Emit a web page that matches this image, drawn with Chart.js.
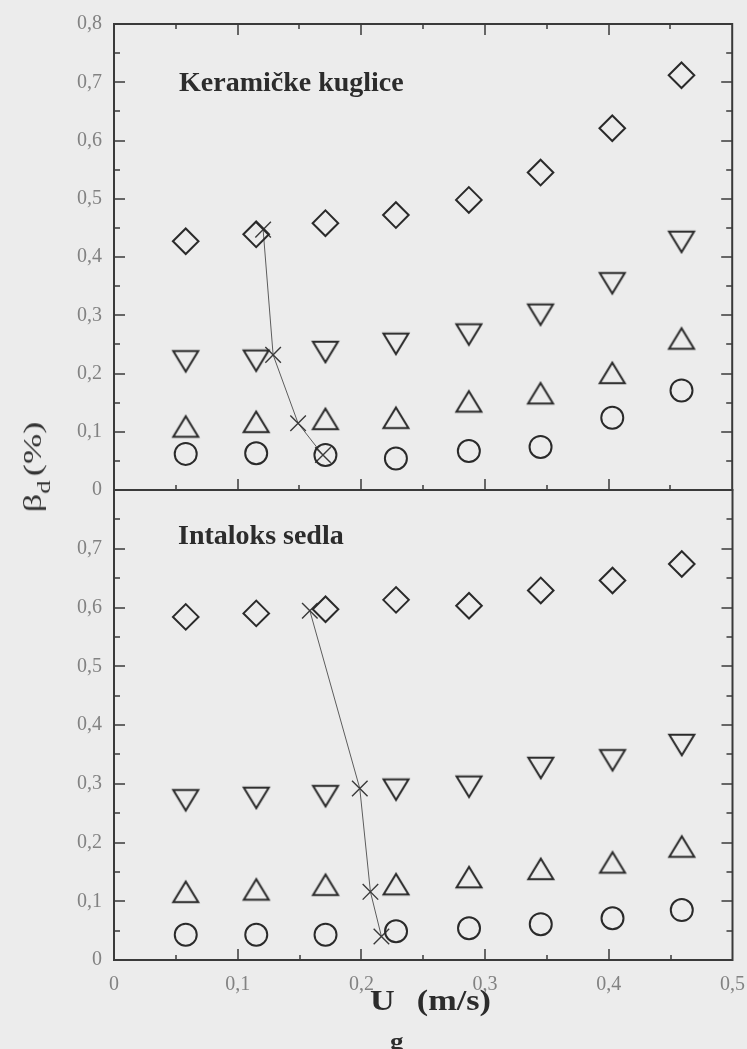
<!DOCTYPE html>
<html>
<head>
<meta charset="utf-8">
<title>β_d vs U_g</title>
<script src="https://cdn.jsdelivr.net/npm/chart.js@4.4.1/dist/chart.umd.min.js"></script>
<style>
  html, body { margin: 0; padding: 0; background: #ececec; }
  #wrap { position: relative; width: 747px; height: 1049px; overflow: hidden;
          font-family: "Liberation Serif", "Times New Roman", serif; }
  canvas { position: absolute; left: 0; }
  #cTop { top: -10px; }
  #cBot { top: 460px; }
  .txt { position: absolute; white-space: nowrap; line-height: 1; color: #2c2c2c; }
  .panel { font-size: 28px; font-weight: bold; }
  #xTitle { left: 370px; top: 986px; font-size: 29px; font-weight: bold;
            transform: scaleX(1.18); transform-origin: 0 0; }
  #xTitle .sub { position: relative; top: 39px; left: -4px; font-size: 23px; }
  #yTitle { left: 33px; top: 467px; font-size: 26px; color: #333;
            transform: translate(-50%, -50%) rotate(-90deg) scaleX(1.4); }
  #yTitle .sub { position: relative; top: 9px; font-size: 19px; margin-right: 3px; }
</style>
</head>
<body>
<div id="wrap">
  <canvas id="cTop" width="747" height="530" style="width:747px;height:530px"></canvas>
  <canvas id="cBot" width="758" height="589" style="width:758px;height:589px"></canvas>
  <div class="txt panel" style="left:179px;top:68px">Keramičke kuglice</div>
  <div class="txt panel" style="left:178px;top:521px">Intaloks sedla</div>
  <div class="txt" id="xTitle">U<span class="sub">g</span> (m/s)</div>
  <div class="txt" id="yTitle">β<span class="sub">d</span>(%)</div>
</div>
<script>
// Gas velocity U_g (m/s) shared by both packings
const uG = [0.058, 0.115, 0.171, 0.228, 0.287, 0.345, 0.403, 0.459];

// Keramičke kuglice (upper panel), β_d in %
const kerDiamond = [0.427, 0.439, 0.458, 0.472, 0.498, 0.545, 0.621, 0.712];
const kerDown    = [0.221, 0.222, 0.237, 0.251, 0.267, 0.301, 0.355, 0.426];
const kerUp      = [0.109, 0.117, 0.122, 0.124, 0.152, 0.166, 0.201, 0.260];
const kerCircle  = [0.062, 0.063, 0.060, 0.054, 0.067, 0.074, 0.124, 0.171];
const kerLimitU  = [0.1206, 0.1287, 0.1489, 0.169];
const kerLimitB  = [0.447, 0.232, 0.1145, 0.060];

// Intaloks sedla (lower panel), β_d in %
const intDiamond = [0.584, 0.590, 0.597, 0.613, 0.603, 0.629, 0.646, 0.674];
const intDown    = [0.272, 0.276, 0.279, 0.290, 0.295, 0.327, 0.340, 0.366];
const intUp      = [0.116, 0.120, 0.128, 0.129, 0.141, 0.155, 0.166, 0.193];
const intCircle  = [0.043, 0.043, 0.043, 0.049, 0.054, 0.061, 0.071, 0.085];
const intLimitU  = [0.1583, 0.1987, 0.2073, 0.2162];
const intLimitB  = [0.5946, 0.292, 0.116, 0.040];

// Axis tick labels and tick positions
const xTickLabels = ['0', '0,1', '0,2', '0,3', '0,4', '0,5'];
const yTickLabels = ['0', '0,1', '0,2', '0,3', '0,4', '0,5', '0,6', '0,7', '0,8'];
const xMajor = [0.1, 0.2, 0.3, 0.4];
const xMinor = [0.05, 0.15, 0.25, 0.35, 0.45];
const yMajor = [0.1, 0.2, 0.3, 0.4, 0.5, 0.6, 0.7];
const yMinor = [0.05, 0.15, 0.25, 0.35, 0.45, 0.55, 0.65, 0.75];

const MARK = '#2a2a2a';
const AXIS = '#3a3a3a';
const LABEL = '#828282';
const TICK_FONT = { family: 'Liberation Serif', size: 20 };

// Open triangle marker, centred on its bounding box
function triangleMarker(pointDown) {
  const c = document.createElement('canvas');
  c.width = 36; c.height = 32;
  const g = c.getContext('2d');
  const half = 12.5, tall = 20.5, cx = 18, cy = 16;
  g.strokeStyle = MARK; g.lineWidth = 2; g.lineJoin = 'miter';
  g.beginPath();
  if (pointDown) {
    g.moveTo(cx - half, cy - tall / 2); g.lineTo(cx + half, cy - tall / 2); g.lineTo(cx, cy + tall / 2);
  } else {
    g.moveTo(cx - half, cy + tall / 2); g.lineTo(cx + half, cy + tall / 2); g.lineTo(cx, cy - tall / 2);
  }
  g.closePath(); g.stroke();
  return c;
}
const triUp = triangleMarker(false);
const triDown = triangleMarker(true);

function markerSet(ys, style, radius) {
  return {
    data: uG.map((x, i) => ({ x, y: ys[i] })),
    showLine: false, clip: false,
    pointStyle: style, pointRadius: radius, pointHoverRadius: radius,
    pointBorderColor: MARK, pointBorderWidth: 2,
    pointBackgroundColor: 'rgba(0,0,0,0)'
  };
}
function limitSet(xs, ys) {
  return {
    data: xs.map((x, i) => ({ x, y: ys[i] })),
    showLine: true, clip: false, tension: 0, fill: false,
    borderColor: '#5c5c5c', borderWidth: 1,
    pointStyle: 'crossRot', pointRadius: 11, pointHoverRadius: 11,
    pointBorderColor: '#3a3a3a', pointBorderWidth: 1.4
  };
}

// Frame with inward-pointing major/minor ticks
const frameTicks = {
  id: 'frameTicks',
  beforeDatasetsDraw(chart, args, o) {
    const { ctx, chartArea: a, scales: { x, y } } = chart;
    ctx.save();
    ctx.strokeStyle = AXIS;
    ctx.lineWidth = 2;
    ctx.beginPath();
    ctx.moveTo(a.left, a.top); ctx.lineTo(a.left, a.bottom);
    ctx.lineTo(a.right, a.bottom); ctx.lineTo(a.right, a.top);
    ctx.moveTo(a.left - 1, a.top); ctx.lineTo(a.right + 1, a.top);
    ctx.stroke();

    ctx.lineWidth = 1.5;
    ctx.beginPath();
    const seg = (px, py, dx, dy) => { ctx.moveTo(px, py); ctx.lineTo(px + dx, py + dy); };
    const xTicks = (vals, len) => vals.forEach(v => {
      const p = Math.round(x.getPixelForValue(v));
      seg(p, a.bottom, 0, -len);
      if (o.topTicks) seg(p, a.top, 0, len);
    });
    const yTicks = (vals, len) => vals.forEach(v => {
      const p = Math.round(y.getPixelForValue(v));
      seg(a.left, p, len, 0);
      seg(a.right, p, -len, 0);
    });
    xTicks(xMajor, 11); xTicks(xMinor, 5);
    yTicks(yMajor, 11); yTicks(yMinor, 6);
    ctx.stroke();
    ctx.restore();
  }
};

function panelChart(id, datasets, cfg) {
  return new Chart(document.getElementById(id), {
    type: 'scatter',
    data: { datasets },
    options: {
      responsive: false, animation: false, devicePixelRatio: 1,
      layout: { padding: cfg.padding },
      events: [],
      plugins: { legend: { display: false }, tooltip: { enabled: false },
                 frameTicks: { topTicks: cfg.topTicks } },
      scales: {
        x: {
          type: 'linear', min: 0, max: 0.5, display: cfg.showX,
          grid: { display: false, drawTicks: false }, border: { display: false },
          ticks: { stepSize: 0.1, color: LABEL, font: TICK_FONT, padding: 13, maxRotation: 0,
                   callback: (v, i) => xTickLabels[i] },
          afterFit: s => { s.height = cfg.xHeight; }
        },
        y: {
          type: 'linear', min: 0, max: 0.8,
          grid: { display: false, drawTicks: false }, border: { display: false },
          ticks: { stepSize: 0.1, color: LABEL, font: TICK_FONT, padding: 12,
                   callback: (v, i) => yTickLabels[i] },
          afterBuildTicks: s => { if (cfg.dropTop) s.ticks = s.ticks.filter(t => t.value < 0.79); },
          afterFit: s => { s.width = 114; }
        }
      }
    },
    plugins: [frameTicks]
  });
}

// Upper panel: plot area spans y 24..490 of the page
panelChart('cTop', [
  markerSet(kerCircle, 'circle', 11),
  markerSet(kerUp, triUp, 12),
  markerSet(kerDown, triDown, 12),
  markerSet(kerDiamond, 'rectRot', 12.8),
  limitSet(kerLimitU, kerLimitB)
], { padding: { top: 34, right: 14, bottom: 30, left: 0 }, topTicks: true,
     showX: false, xHeight: 0, dropTop: false });

// Lower panel: plot area spans y 490..960, shared x axis below it
panelChart('cBot', [
  markerSet(intCircle, 'circle', 11),
  markerSet(intUp, triUp, 12),
  markerSet(intDown, triDown, 12),
  markerSet(intDiamond, 'rectRot', 12.8),
  limitSet(intLimitU, intLimitB)
], { padding: { top: 30, right: 25, bottom: 0, left: 0 }, topTicks: false,
     showX: true, xHeight: 89, dropTop: true });
</script>
</body>
</html>
